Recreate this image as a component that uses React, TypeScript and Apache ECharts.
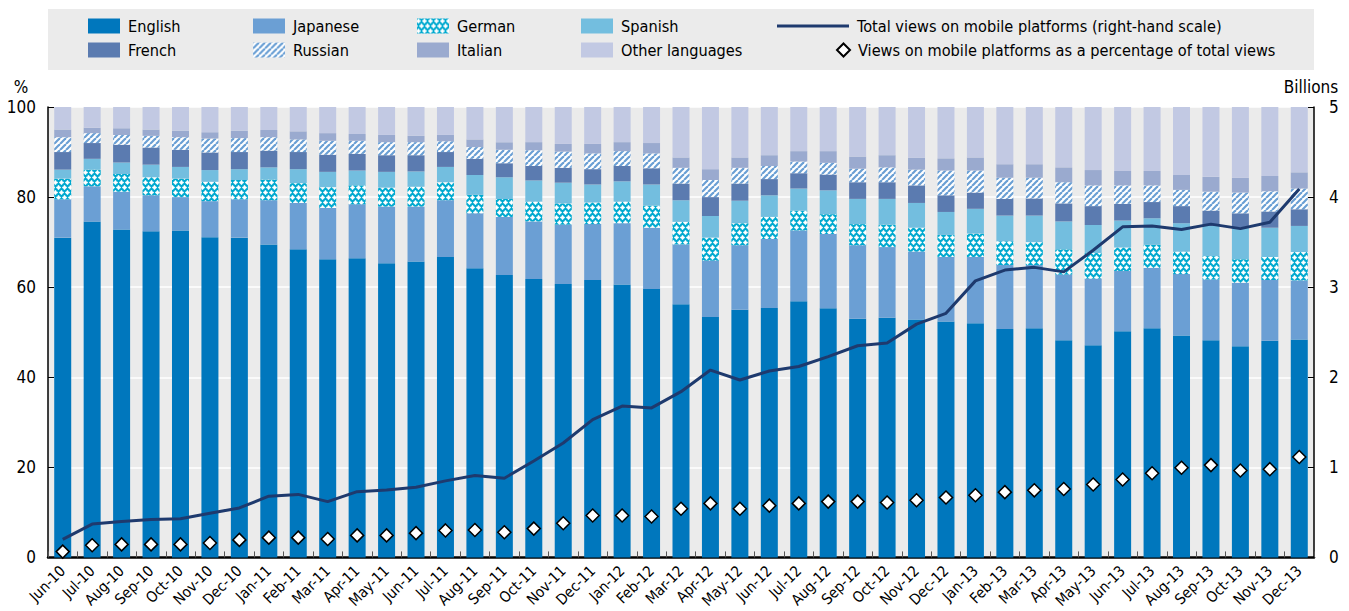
import React, { useEffect, useRef } from "react";
import * as echarts from "echarts";

const months = [
  "Jun-10", "Jul-10", "Aug-10", "Sep-10", "Oct-10", "Nov-10", "Dec-10",
  "Jan-11", "Feb-11", "Mar-11", "Apr-11", "May-11", "Jun-11", "Jul-11", "Aug-11", "Sep-11", "Oct-11", "Nov-11", "Dec-11",
  "Jan-12", "Feb-12", "Mar-12", "Apr-12", "May-12", "Jun-12", "Jul-12", "Aug-12", "Sep-12", "Oct-12", "Nov-12", "Dec-12",
  "Jan-13", "Feb-13", "Mar-13", "Apr-13", "May-13", "Jun-13", "Jul-13", "Aug-13", "Sep-13", "Oct-13", "Nov-13", "Dec-13",
];

const english = [71.0, 74.6, 72.8, 72.4, 72.6, 71.1, 71.0, 69.5, 68.4, 66.2, 66.4, 65.3, 65.7, 66.7, 64.2, 62.7, 61.8, 60.7, 61.6, 60.6, 59.6, 56.2, 53.4, 55.0, 55.4, 56.9, 55.3, 53.0, 53.2, 52.8, 52.4, 52.0, 50.7, 50.9, 48.2, 47.1, 50.2, 50.9, 49.3, 48.2, 46.9, 48.1, 48.4];
const japanese = [8.5, 7.8, 8.4, 8.0, 7.4, 8.0, 8.5, 9.8, 10.3, 11.4, 12.0, 12.6, 12.2, 12.6, 12.2, 12.9, 12.8, 13.2, 12.4, 13.6, 13.6, 13.3, 12.5, 14.3, 15.3, 15.7, 16.5, 16.3, 15.7, 15.1, 14.3, 14.7, 14.2, 14.0, 14.6, 14.8, 13.4, 13.4, 13.6, 13.5, 14.1, 13.5, 13.1];
const german = [4.6, 3.7, 3.9, 4.0, 4.1, 4.3, 4.3, 4.6, 4.4, 4.6, 4.2, 4.2, 4.4, 4.0, 4.1, 4.0, 4.4, 4.7, 4.8, 4.8, 4.9, 5.0, 5.1, 4.9, 4.9, 4.4, 4.4, 4.7, 5.0, 5.3, 4.9, 5.2, 5.3, 5.1, 5.6, 5.7, 5.2, 5.1, 5.0, 5.2, 5.2, 5.1, 6.3];
const spanish = [2.0, 2.4, 2.6, 2.8, 2.6, 2.6, 2.4, 2.7, 3.1, 3.4, 3.3, 3.5, 3.4, 3.4, 4.4, 4.8, 4.7, 4.6, 4.0, 4.5, 4.7, 4.8, 4.8, 5.0, 4.8, 4.9, 5.3, 5.6, 5.7, 5.5, 5.1, 5.5, 5.7, 5.9, 6.2, 6.2, 6.0, 5.9, 6.3, 6.7, 7.1, 6.5, 5.8];
const french = [3.9, 3.5, 3.9, 3.8, 3.8, 3.9, 3.8, 3.7, 3.8, 3.8, 3.7, 3.7, 3.6, 3.3, 3.6, 3.1, 3.2, 3.3, 3.4, 3.4, 3.6, 3.7, 4.2, 3.8, 3.6, 3.4, 3.5, 3.7, 3.7, 3.9, 3.7, 3.6, 3.7, 3.8, 4.0, 4.2, 3.7, 3.6, 3.8, 3.4, 3.1, 3.6, 3.7];
const russian = [3.3, 2.2, 2.2, 2.6, 2.8, 3.1, 3.1, 3.0, 2.8, 3.1, 2.9, 2.9, 2.9, 2.4, 2.6, 3.0, 3.5, 3.6, 3.5, 3.3, 3.3, 3.5, 3.8, 3.5, 2.9, 2.6, 2.6, 3.0, 3.3, 3.5, 5.5, 4.9, 4.7, 4.6, 4.7, 4.6, 4.1, 3.7, 3.6, 4.2, 4.6, 4.5, 4.6];
const italian = [1.7, 1.2, 1.5, 1.4, 1.4, 1.4, 1.6, 1.6, 1.8, 1.7, 1.5, 1.6, 1.4, 1.4, 1.7, 1.7, 1.8, 1.7, 2.1, 2.0, 2.3, 2.3, 2.4, 2.3, 2.4, 2.3, 2.6, 2.7, 2.7, 2.6, 2.7, 2.9, 3.0, 3.0, 3.3, 3.4, 3.2, 3.2, 3.3, 3.3, 3.3, 3.4, 3.6];
const otherLanguages = [5.0, 4.6, 4.7, 5.0, 5.3, 5.6, 5.3, 5.1, 5.4, 5.8, 6.0, 6.2, 6.4, 6.2, 7.2, 7.8, 7.8, 8.2, 8.2, 7.8, 8.0, 11.2, 13.8, 11.2, 10.7, 9.8, 9.8, 11.0, 10.7, 11.3, 11.4, 11.2, 12.7, 12.7, 13.4, 14.0, 14.2, 14.2, 15.1, 15.5, 15.7, 15.3, 14.5];

// Billions (right-hand scale)
const totalMobileViews = [0.20, 0.37, 0.40, 0.42, 0.43, 0.49, 0.55, 0.68, 0.70, 0.62, 0.73, 0.75, 0.78, 0.85, 0.91, 0.88, 1.07, 1.27, 1.53, 1.68, 1.66, 1.84, 2.08, 1.97, 2.07, 2.12, 2.23, 2.35, 2.38, 2.59, 2.71, 3.07, 3.19, 3.22, 3.17, 3.41, 3.67, 3.68, 3.64, 3.70, 3.65, 3.72, 4.09];
// Percent of total views (left-hand scale)
const mobileShare = [1.3, 2.7, 2.9, 2.9, 2.9, 3.2, 3.9, 4.4, 4.4, 4.1, 4.9, 4.9, 5.4, 6.0, 6.1, 5.6, 6.4, 7.6, 9.3, 9.3, 9.1, 10.8, 12.0, 10.8, 11.5, 12.0, 12.4, 12.4, 12.2, 12.7, 13.3, 13.8, 14.5, 14.9, 15.2, 16.2, 17.3, 18.7, 19.9, 20.5, 19.3, 19.6, 22.3];

const leftAxis = { min: 0, max: 100, interval: 20 };
const rightAxis = { min: 0, max: 5, interval: 1 };

const LINE_NAME = "Total views on mobile platforms (right-hand scale)";
const DOT_NAME = "Views on mobile platforms as a percentage of total views";

const FONT = '"Liberation Sans Narrow", "Arial Narrow", "DejaVu Sans Condensed", sans-serif';

function germanPattern() {
  const c = document.createElement("canvas");
  c.width = 6;
  c.height = 10;
  const g = c.getContext("2d")!;
  g.fillStyle = "#00a9cf";
  g.fillRect(0, 0, 6, 10);
  g.fillStyle = "#ffffff";
  const blob = (x: number, y: number) => {
    g.beginPath();
    g.arc(x, y, 1.6, 0, Math.PI * 2);
    g.fill();
    g.fillRect(x - 2.3, y - 0.7, 4.6, 1.4);
    g.fillRect(x - 0.7, y - 2.3, 1.4, 4.6);
  };
  for (const dx of [-6, 0, 6]) {
    for (const dy of [-10, 0, 10]) {
      blob(1.5 + dx, 2.5 + dy);
      blob(4.5 + dx, 7.5 + dy);
    }
  }
  return c;
}

function stripePattern() {
  const c = document.createElement("canvas");
  c.width = 6;
  c.height = 6;
  const g = c.getContext("2d")!;
  g.fillStyle = "#ffffff";
  g.fillRect(0, 0, 6, 6);
  g.strokeStyle = "#6a9fd4";
  g.lineWidth = 2.2;
  for (const k of [-6, 0, 6]) {
    g.beginPath();
    g.moveTo(k, 6);
    g.lineTo(k + 6, 0);
    g.stroke();
  }
  return c;
}

export default function App() {
  const ref = useRef<HTMLDivElement>(null);

  useEffect(() => {
    if (!ref.current) return;
    const chart = echarts.init(ref.current, null, { renderer: "svg" });

    const germanFill: any = { image: germanPattern(), repeat: "repeat", imageWidth: 6, imageHeight: 10 };
    const russianFill: any = { image: stripePattern(), repeat: "repeat", imageWidth: 6, imageHeight: 6 };

    const langs = [
      { name: "English", data: english, color: "#0077bd" },
      { name: "Japanese", data: japanese, color: "#6b9fd4" },
      { name: "German", data: german, color: germanFill },
      { name: "Spanish", data: spanish, color: "#73bedf" },
      { name: "French", data: french, color: "#5b7bb0" },
      { name: "Russian", data: russian, color: russianFill },
      { name: "Italian", data: italian, color: "#9aaacf" },
      { name: "Other languages", data: otherLanguages, color: "#c2c9e3" },
    ];

    const textStyle = { fontFamily: FONT, fontSize: 16.2, color: "#000", lineHeight: 18, padding: [0, 0, 0, 3] };
    const legendBase = {
      orient: "horizontal",
      padding: 0,
      itemWidth: 32,
      itemHeight: 15,
      icon: "rect",
      selectedMode: false,
      textStyle,
    };
    const legendDefs: any[] = [
      { data: ["English"], left: 88, top: 17 },
      { data: ["French"], left: 88, top: 41 },
      { data: ["Japanese"], left: 253, top: 17 },
      { data: ["Russian"], left: 253, top: 41 },
      { data: ["German"], left: 417, top: 17 },
      { data: ["Italian"], left: 417, top: 41 },
      { data: ["Spanish"], left: 581, top: 17 },
      { data: ["Other languages"], left: 581, top: 41 },
      { data: [LINE_NAME], left: 777, top: 17, itemWidth: 72, itemHeight: 3, icon: "rect" },
      { data: [DOT_NAME], left: 836, top: 41, itemWidth: 13, itemHeight: 13, icon: "diamond" },
    ];
    const legends = legendDefs.map((d) => ({ ...legendBase, ...d }));

    const option: any = {
      animation: false,
      backgroundColor: "#fff",
      textStyle: { fontFamily: FONT },
      grid: {
        left: 48,
        right: 35,
        top: 107,
        bottom: 53,
        show: true,
        backgroundColor: "#ebebeb",
        borderWidth: 0,
      },
      legend: legends,
      graphic: [
        {
          type: "rect",
          z: 0,
          silent: true,
          shape: { x: 48, y: 9, width: 1266, height: 61 },
          style: { fill: "#ebebeb" },
        },
        {
          type: "text",
          x: 21,
          y: 87,
          style: { text: "%", fontFamily: FONT, fontSize: 17, fill: "#000", align: "center", verticalAlign: "middle" },
        },
        {
          type: "text",
          x: 1311,
          y: 87,
          style: { text: "Billions", fontFamily: FONT, fontSize: 17, fill: "#000", align: "center", verticalAlign: "middle" },
        },
      ],
      xAxis: {
        type: "category",
        data: months,
        axisLine: { show: true, lineStyle: { color: "#000", width: 2.5 } },
        axisTick: { show: true, inside: true, length: 6, lineStyle: { color: "#555", width: 1 } },
        axisLabel: {
          interval: 0,
          rotate: 45,
          margin: 11,
          fontFamily: FONT,
          fontSize: 15,
          color: "#000",
        },
        splitLine: { show: false },
      },
      yAxis: [
        {
          type: "value",
          min: leftAxis.min,
          max: leftAxis.max,
          interval: leftAxis.interval,
          axisLine: { show: true, lineStyle: { color: "#000", width: 1.5 } },
          axisTick: { show: true, inside: true, length: 6, lineStyle: { color: "#000" } },
          axisLabel: { margin: 12, fontFamily: FONT, fontSize: 17, color: "#000" },
          splitLine: { show: true, lineStyle: { color: "#ffffff", width: 1.5 } },
        },
        {
          type: "value",
          min: rightAxis.min,
          max: rightAxis.max,
          interval: rightAxis.interval,
          position: "right",
          axisLine: { show: true, lineStyle: { color: "#000", width: 1.5 } },
          axisTick: { show: true, inside: true, length: 6, lineStyle: { color: "#000" } },
          axisLabel: { margin: 15, fontFamily: FONT, fontSize: 17, color: "#000" },
          splitLine: { show: false },
        },
      ],
      series: [
        ...langs.map((l) => ({
          name: l.name,
          type: "bar",
          stack: "lang",
          barWidth: 17,
          data: l.data,
          itemStyle: { color: l.color, borderWidth: 0 },
          emphasis: { disabled: true },
        })),
        {
          name: LINE_NAME,
          type: "line",
          yAxisIndex: 1,
          data: totalMobileViews,
          symbol: "none",
          lineStyle: { color: "#1e3a6e", width: 3 },
          itemStyle: { color: "#1e3a6e" },
          z: 5,
        },
        {
          name: DOT_NAME,
          type: "scatter",
          yAxisIndex: 0,
          data: mobileShare,
          symbol: "diamond",
          symbolSize: 13,
          itemStyle: { color: "#ffffff", borderColor: "#000", borderWidth: 1.5, opacity: 1 },
          z: 6,
        },
      ],
    };

    chart.setOption(option);
    return () => chart.dispose();
  }, []);

  return <div ref={ref} style={{ position: "fixed", left: 0, top: 0, width: 1349, height: 611 }} />;
}
